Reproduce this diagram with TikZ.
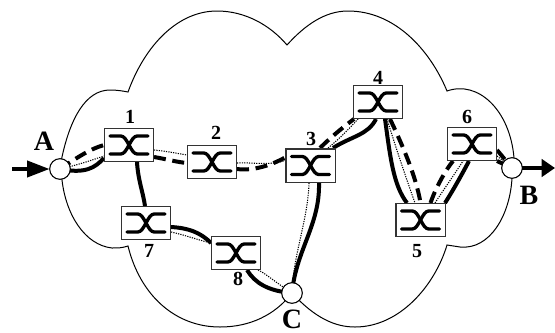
\documentclass[tikz,border=0pt]{standalone}
\usepackage{fontspec}
\setmainfont{Liberation Serif}
\usetikzlibrary{backgrounds,arrows.meta}
\tikzset{
  sw/.style={draw=black!80,line width=1pt,fill=white,minimum width=37pt,minimum height=25pt,inner sep=0pt,outer sep=0pt,
    path picture={
      \draw[line width=2.5pt,black,line cap=round]
        ([shift={(-14.2pt,6.8pt)}]path picture bounding box.center) -- ++(8pt,0) .. controls +(5pt,0) and +(-5pt,0) .. ++(12.4pt,-13.6pt) -- ++(8pt,0);
      \draw[line width=2.5pt,black,line cap=round]
        ([shift={(-14.2pt,-6.8pt)}]path picture bounding box.center) -- ++(8pt,0) .. controls +(5pt,0) and +(-5pt,0) .. ++(12.4pt,13.6pt) -- ++(8pt,0);
    }},
  port/.style={circle,draw=black,line width=0.8pt,fill=white,minimum size=15.5pt,inner sep=0pt,outer sep=0pt},
  num/.style={font=\bfseries\fontsize{15pt}{16pt}\selectfont,inner sep=0pt},
  big/.style={font=\bfseries\fontsize{21pt}{22pt}\selectfont,inner sep=0pt},
  solidl/.style={line width=3pt,black},
  dashl/.style={line width=3pt,black,dash pattern=on 9pt off 5pt},
  dotl/.style={line width=0.8pt,black,dash pattern=on 0.9pt off 0.9pt},
  cloud/.style={line width=0.75pt,black},
  flow/.style={line width=3pt,black,-{Triangle[length=17pt,width=12pt]}},
  flowout/.style={line width=3pt,black,-{Triangle[length=10pt,width=13pt]}},
}
\begin{document}
\begin{tikzpicture}[x=0.75pt,y=-0.75pt]
\useasboundingbox (0,0) rectangle (555,332);
\node[port] (A) at (60,169) {};
\node[port] (B) at (512,168) {};
\node[port] (C) at (292,293) {};
\node[sw] (n1) at (129,145) {};
\node[sw] (n2) at (212,162) {};
\node[sw] (n3) at (310.5,165.5) {};
\node[sw] (n4) at (378,102) {};
\node[sw] (n5) at (420.5,220) {};
\node[sw] (n6) at (472,144) {};
\node[sw] (n7) at (146,223) {};
\node[sw] (n8) at (236,253) {};
\node[big] (la) at (44,141) {A};
\node[big] (lb) at (529,195) {B};
\node[big] (lc) at (292,319) {C};
\node[num] (l1) at (130,117) {1};
\node[num] (l2) at (216,133) {2};
\node[num] (l3) at (311,139) {3};
\node[num] (l4) at (378,78) {4};
\node[num] (l5) at (417,251) {5};
\node[num] (l6) at (467,117) {6};
\node[num] (l7) at (149,251) {7};
\node[num] (l8) at (238,279) {8};
\coordinate (inA) at (12,169);
\coordinate (outB) at (555,168);
\begin{scope}[on background layer]
\draw[cloud] (A.center) -- (62,157) .. controls (70,120) and (85,90) .. (110,90)
  .. controls (117,90) and (123,91) .. (128,92)
  .. controls (145,45) and (178,11) .. (217,11)
  .. controls (245,11) and (270,25) .. (287,45)
  .. controls (305,25) and (325,11) .. (348,11)
  .. controls (395,11) and (430,50) .. (447,91)
  .. controls (478,80) and (510,110) .. (514,158) -- (B.center)
  -- (512,178) .. controls (510,215) and (490,250) .. (460,247) -- (447,245)
  .. controls (435,285) and (400,327) .. (355,327)
  .. controls (335,327) and (315,318) .. (C.center)
  .. controls (275,315) and (250,327) .. (220,327)
  .. controls (175,327) and (140,295) .. (128,246)
  .. controls (122,248) and (118,248) .. (112,248)
  .. controls (85,245) and (66,215) .. (62,180) -- (A.center);
% solid
\draw[solidl] (A.center) .. controls (85,174) and (95,168) .. ([shift={(-25,13)}]n1.center);
\draw[solidl] ([shift={(8,17)}]n1.center) .. controls (138,180) and (143,192) .. ([shift={(-1,-17)}]n7.center);
\draw[solidl] ([shift={(25,4)}]n7.center) .. controls (188,228) and (200,232) .. ([shift={(-25,-10)}]n8.center);
\draw[solidl] ([shift={(11,17)}]n8.center) .. controls (255,283) and (268,291) .. (C.center);
\draw[solidl] (C.center) .. controls (296,250) and (320,225) .. ([shift={(8.5,17.5)}]n3.center);
\draw[solidl] ([shift={(22.5,-17.5)}]n3.center) .. controls (352,136) and (368,135) .. ([shift={(-2,17)}]n4.center);
\draw[solidl] ([shift={(7,17)}]n4.center) .. controls (390,155) and (393,185) .. ([shift={(-13.5,-17)}]n5.center);
\draw[solidl] ([shift={(24.5,-17)}]n5.center) .. controls (452,192) and (460,178) .. ([shift={(-3,17)}]n6.center);
\draw[solidl] ([shift={(25,17)}]n6.center) -- (B.center);
% dashed
\draw[dashl] (A.center) .. controls (78,157) and (90,149) .. ([shift={(-25,0)}]n1.center);
\draw[dashl] ([shift={(25,12)}]n1.center) .. controls (166,159) and (176,162) .. ([shift={(-25,1)}]n2.center);
\draw[dashl] ([shift={(25,7)}]n2.center) .. controls (252,171) and (270,166) .. ([shift={(-25.5,-8)}]n3.center);
\draw[dashl] ([shift={(9.5,-17.5)}]n3.center) .. controls (330,138) and (342,128) .. ([shift={(-24,17)}]n4.center);
\draw[dashl] ([shift={(12,17)}]n4.center) .. controls (400,140) and (416,175) .. ([shift={(0,-17)}]n5.center);
\draw[dashl] ([shift={(10,-17)}]n5.center) .. controls (434,192) and (444,172) .. ([shift={(-19,17)}]n6.center);
\draw[dashl] ([shift={(25,6)}]n6.center) -- (B.center);
% dotted
\draw[dotl] (A.center) .. controls (78,165) and (92,160) .. ([shift={(-25,11)}]n1.center);
\draw[dotl] ([shift={(25,5)}]n1.center) .. controls (165,151) and (175,153) .. ([shift={(-25,-7)}]n2.center);
\draw[dotl] ([shift={(25,1)}]n2.center) .. controls (250,162) and (270,166) .. ([shift={(-25.5,-5)}]n3.center);
\draw[dotl] ([shift={(17.5,-17.5)}]n3.center) .. controls (338,140) and (348,130) .. ([shift={(-20,17)}]n4.center);
\draw[dotl] ([shift={(9,17)}]n4.center) .. controls (395,145) and (405,175) .. ([shift={(-5.5,-17)}]n5.center);
\draw[dotl] ([shift={(14.5,-17)}]n5.center) .. controls (442,192) and (452,178) .. ([shift={(-9,17)}]n6.center);
\draw[dotl] ([shift={(25,12)}]n6.center) -- (B.center);
\draw[dotl] ([shift={(25,9)}]n7.center) .. controls (185,235) and (198,240) .. ([shift={(-25,-10)}]n8.center);
\draw[dotl] ([shift={(22,17)}]n8.center) .. controls (265,273) and (275,282) .. (C.center);
\draw[dotl] (C.center) .. controls (293,255) and (308,220) .. ([shift={(-1.5,17.5)}]n3.center);
\end{scope}
\draw[flow] (inA) -- (A);
\draw[flowout] (B) -- (outB);
\end{tikzpicture}
\end{document}
